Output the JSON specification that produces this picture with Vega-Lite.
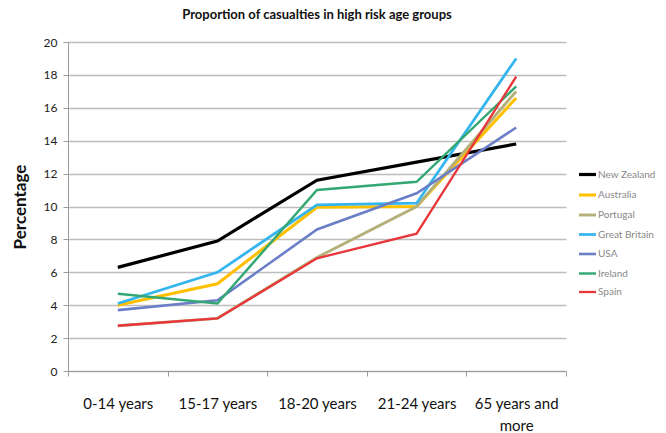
{
  "$schema": "https://vega.github.io/schema/vega-lite/v6.json",
  "width": 498,
  "height": 329,
  "autosize": {"type": "none"},
  "padding": {"left": 68, "top": 42, "right": 100, "bottom": 62},
  "background": "white",
  "config": {"view": {"stroke": null}, "font": "Lato"},
  "title": {"text": "Proportion of casualties in high risk age groups", "fontSize": 13, "fontWeight": "bold", "font": "Lato", "color": "#111", "anchor": "middle", "offset": 14},
  "data": {"values": [
    {"age": "0-14 years", "country": "New Zealand", "value": 6.3},
    {"age": "15-17 years", "country": "New Zealand", "value": 7.9},
    {"age": "18-20 years", "country": "New Zealand", "value": 11.6},
    {"age": "21-24 years", "country": "New Zealand", "value": 12.7},
    {"age": "65 years and more", "country": "New Zealand", "value": 13.8},
    {"age": "0-14 years", "country": "Australia", "value": 4.0},
    {"age": "15-17 years", "country": "Australia", "value": 5.3},
    {"age": "18-20 years", "country": "Australia", "value": 9.95},
    {"age": "21-24 years", "country": "Australia", "value": 10.0},
    {"age": "65 years and more", "country": "Australia", "value": 16.6},
    {"age": "0-14 years", "country": "Portugal", "value": 2.75},
    {"age": "15-17 years", "country": "Portugal", "value": 3.2},
    {"age": "18-20 years", "country": "Portugal", "value": 6.9},
    {"age": "21-24 years", "country": "Portugal", "value": 10.0},
    {"age": "65 years and more", "country": "Portugal", "value": 17.0},
    {"age": "0-14 years", "country": "Great Britain", "value": 4.1},
    {"age": "15-17 years", "country": "Great Britain", "value": 6.0},
    {"age": "18-20 years", "country": "Great Britain", "value": 10.1},
    {"age": "21-24 years", "country": "Great Britain", "value": 10.2},
    {"age": "65 years and more", "country": "Great Britain", "value": 19.0},
    {"age": "0-14 years", "country": "USA", "value": 3.7},
    {"age": "15-17 years", "country": "USA", "value": 4.3},
    {"age": "18-20 years", "country": "USA", "value": 8.6},
    {"age": "21-24 years", "country": "USA", "value": 10.8},
    {"age": "65 years and more", "country": "USA", "value": 14.8},
    {"age": "0-14 years", "country": "Ireland", "value": 4.7},
    {"age": "15-17 years", "country": "Ireland", "value": 4.1},
    {"age": "18-20 years", "country": "Ireland", "value": 11.0},
    {"age": "21-24 years", "country": "Ireland", "value": 11.5},
    {"age": "65 years and more", "country": "Ireland", "value": 17.3},
    {"age": "0-14 years", "country": "Spain", "value": 2.75},
    {"age": "15-17 years", "country": "Spain", "value": 3.2},
    {"age": "18-20 years", "country": "Spain", "value": 6.85},
    {"age": "21-24 years", "country": "Spain", "value": 8.35},
    {"age": "65 years and more", "country": "Spain", "value": 17.9}
  ]},
  "mark": {"type": "line", "strokeJoin": "miter"},
  "encoding": {
    "x": {
      "field": "age", "type": "nominal", "sort": null,
      "scale": {"type": "band", "paddingInner": 0, "paddingOuter": 0},
      "axis": {
        "title": null, "labelAngle": 0, "tickBand": "extent", "grid": false,
        "domainColor": "#9a9a9a", "tickColor": "#9a9a9a", "tickSize": 5,
        "labelFont": "Lato", "labelFontSize": 15, "labelColor": "#111", "labelPadding": 20,
        "labelExpr": "datum.label == '65 years and more' ? ['65 years and', 'more'] : datum.label",
        "labelLineHeight": 22
      }
    },
    "y": {
      "field": "value", "type": "quantitative",
      "scale": {"domain": [0, 20], "nice": false},
      "axis": {
        "title": "Percentage", "titleFontSize": 17, "titleFont": "Lato", "titleFontWeight": "bold", "titleColor": "#111", "titlePadding": 14,
        "values": [0, 2, 4, 6, 8, 10, 12, 14, 16, 18, 20],
        "gridColor": "#bdbdbd", "gridWidth": 1.5, "domainColor": "#9a9a9a", "tickColor": "#9a9a9a", "tickSize": 5,
        "labelFont": "Lato", "labelFontSize": 12, "labelColor": "#222", "labelPadding": 6
      }
    },
    "color": {
      "field": "country", "type": "nominal",
      "scale": {
        "domain": ["New Zealand", "Australia", "Portugal", "Great Britain", "USA", "Ireland", "Spain"],
        "range": ["#000000", "#FFC000", "#B5B07A", "#35B5EE", "#6A7FC8", "#34A873", "#E8363A"]
      },
      "legend": {
        "title": null, "orient": "none", "legendX": 509, "legendY": 122,
        "symbolType": "stroke", "symbolSize": 289, "symbolStrokeWidth": 1.5,
        "labelFont": "Lato", "labelFontSize": 10, "labelColor": "#888", "rowPadding": 3.5, "labelOffset": 0,
        "encode": {"symbols": {"update": {"strokeWidth": {"signal": "datum.value == 'New Zealand' ? 3 : datum.value == 'Australia' ? 2.5 : 1.5"}}}}
      }
    },
    "strokeWidth": {
      "field": "country", "type": "nominal",
      "scale": {
        "domain": ["New Zealand", "Australia", "Portugal", "Great Britain", "USA", "Ireland", "Spain"],
        "range": [3.2, 2.3, 1.2, 1.2, 1.2, 1.5, 1.5]
      },
      "legend": null
    }
  }
}
